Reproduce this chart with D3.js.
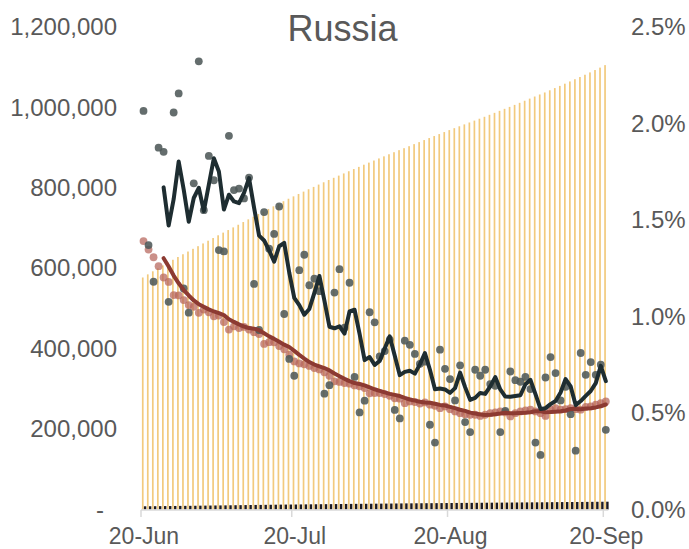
<!DOCTYPE html>
<html><head><meta charset="utf-8">
<script src="https://cdn.jsdelivr.net/npm/d3@7"></script>
<style>
html,body{margin:0;padding:0;background:#fff;}
svg{display:block;font-family:"Liberation Sans",Arial,sans-serif;}
</style></head><body>
<svg id="chart" width="689" height="549"></svg>
<script>
const title = "Russia";
const startDate = new Date(2020, 5, 20);
const cumulativeCases = [
577000,584800,592400,599900,607100,614300,621100,628000,634800,641600,
648300,654900,661700,668500,675200,682000,688600,695000,701600,708200,
714900,721600,728200,734800,741100,747500,754000,760400,766700,772900,
778800,784700,790600,796500,802300,808100,813800,819500,824900,830400,
835800,841300,846700,852100,857500,862700,867900,873100,878300,883500,
888600,893700,898600,903600,908700,913700,918800,923800,928800,933700,
938700,943600,948400,953100,957800,962500,967200,971900,976700,981600,
986500,991500,996500,1001300,1006300,1011400,1016600,1021900,1027100,1032200,
1037200,1042600,1048100,1053500,1059000,1064600,1070100,1075600,1081300,1087100,
1093000,1099000,1105200];
const cumulativeDeaths = [
8002,8111,8206,8359,8513,8605,8781,8969,9073,9166,9320,
9536,9683,9859,10027,10161,10296,10494,10667,10826,11017,
11205,11335,11439,11614,11753,11937,12123,12245,12342,12427,
12580,12745,12892,13026,13172,13249,13354,13504,13650,13802,13963,
14058,14128,14207,14351,14488,14606,14725,14827,15001,15131,
15260,15353,15462,15585,15685,15760,15836,15951,16099,16189,
16310,16383,16448,16524,16641,16758,16866,16968,17045,17128,17250,
17365,17479,17599,17702,17820,17871,17931,18080,18263,18365,
18484,18578,18635,18707,18829,18941,19061,19195,19299,19389];
const deathGrowthPct = [
2.065,1.370,1.180,1.875,1.853,1.076,2.057,2.156,1.145,1.020,
1.690,2.322,1.551,1.832,1.706,1.344,1.337,1.936,1.655,1.663,
1.612,1.720,1.169,0.930,1.541,1.351,1.428,1.570,1.013,0.780,
0.693,1.240,1.320,1.162,1.196,1.131,0.600,0.644,1.124,1.245,
0.942,1.175,0.687,0.503,0.564,1.022,0.970,0.793,0.821,0.880,
0.516,0.472,0.875,0.853,0.806,0.755,0.766,0.439,0.347,0.828,
0.729,0.676,0.565,0.747,0.453,0.401,0.724,0.693,0.724,0.650,
0.641,0.401,0.511,0.715,0.670,0.662,0.687,0.624,0.347,0.283,
0.684,0.790,0.707,0.565,0.636,0.494,0.305,0.811,0.698,0.764,
0.698,0.750,0.413];
const deathGrowthAvgPct = [ // from 24-Jun
1.669,1.471,1.608,1.803,1.657,1.491,1.614,1.667,1.546,1.683,
1.820,1.751,1.554,1.631,1.596,1.587,1.641,1.717,1.564,1.419,
1.394,1.342,1.284,1.364,1.381,1.228,1.097,1.059,1.009,1.039,
1.122,1.210,1.082,0.947,0.939,0.949,0.911,1.026,1.035,0.910,
0.774,0.790,0.749,0.770,0.834,0.897,0.796,0.696,0.713,0.719,
0.704,0.752,0.811,0.724,0.623,0.627,0.622,0.604,0.629,0.709,
0.634,0.568,0.578,0.604,0.599,0.638,0.686,0.622,0.585,0.584,
0.588,0.592,0.649,0.672,0.598,0.521,0.525,0.546,0.562,0.606,
0.676,0.638,0.541,0.562,0.589,0.614,0.655,0.744,0.665];
const caseGrowthPct = [
1.391,1.347,1.307,1.261,1.202,1.179,1.111,1.109,1.085,1.059,
1.050,1.019,1.036,1.022,1.001,1.005,0.971,0.932,0.949,0.940,
0.946,0.932,0.919,0.909,0.858,0.867,0.866,0.847,0.830,0.802,
0.767,0.757,0.752,0.744,0.733,0.726,0.711,0.693,0.664,0.661,
0.655,0.652,0.643,0.638,0.629,0.602,0.603,0.603,0.598,0.589,
0.576,0.574,0.551,0.560,0.557,0.549,0.555,0.543,0.537,0.525,
0.534,0.520,0.508,0.499,0.494,0.491,0.491,0.485,0.491,0.499,
0.503,0.508,0.503,0.482,0.499,0.508,0.513,0.517,0.508,0.499,
0.485,0.517,0.525,0.517,0.520,0.525,0.520,0.517,0.531,0.534,
0.543,0.551,0.560];
const caseGrowthAvgPct = [ // from 24-Jun
1.302,1.259,1.212,1.172,1.137,1.109,1.083,1.064,1.050,1.037,
1.026,1.017,1.007,0.986,0.972,0.959,0.948,0.940,0.937,0.929,
0.913,0.897,0.884,0.869,0.854,0.842,0.822,0.801,0.782,0.764,
0.751,0.742,0.733,0.721,0.705,0.691,0.677,0.665,0.655,0.650,
0.643,0.633,0.623,0.615,0.607,0.599,0.594,0.588,0.578,0.570,
0.564,0.558,0.554,0.553,0.548,0.542,0.539,0.532,0.525,0.517,
0.511,0.502,0.497,0.492,0.490,0.491,0.494,0.497,0.501,0.499,
0.499,0.500,0.501,0.504,0.509,0.509,0.504,0.505,0.507,0.509,
0.513,0.521,0.521,0.520,0.523,0.525,0.529,0.535,0.544];
const avgStartOffset = 4;
const xTickDates = [new Date(2020,5,20), new Date(2020,6,20), new Date(2020,7,20), new Date(2020,8,20)];
const xTickLabels = ["20-Jun","20-Jul","20-Aug","20-Sep"];
const leftTicks = [0,200000,400000,600000,800000,1000000,1200000];
const rightTicks = [0,0.5,1.0,1.5,2.0,2.5];

const svg = d3.select("#chart");
const dates = cumulativeCases.map((_, i) => d3.timeDay.offset(startDate, i));
const x = d3.scaleTime().domain([new Date(2020,5,20), new Date(2020,8,20)]).range([141, 603.3]);
const yL = d3.scaleLinear().domain([0, 1200000]).range([509.5, 27]);
const yR = d3.scaleLinear().domain([0, 2.5]).range([509.5, 27]);
const cx = d => x(d3.timeHour.offset(d, 12));
const x0 = d => x(d);

// yellow bars (cumulative cases)
svg.append("g").selectAll("rect").data(dates).join("rect")
  .attr("x", d => x0(d) + 0.9).attr("width", 1.7)
  .attr("y", (d,i) => yL(cumulativeCases[i]))
  .attr("height", (d,i) => yL(0) - yL(cumulativeCases[i]))
  .attr("fill", "#f2ca7e");
// black bars (cumulative deaths)
svg.append("g").selectAll("rect").data(dates).join("rect")
  .attr("x", d => x0(d) + 2.9).attr("width", 2.4)
  .attr("y", (d,i) => yL(cumulativeDeaths[i]))
  .attr("height", (d,i) => yL(0) - yL(cumulativeDeaths[i]))
  .attr("fill", "#1b1a24");

// x axis line + ticks
const xEnd = x(new Date(2020,8,21));
svg.append("line").attr("x1", x(new Date(2020,5,20))).attr("x2", xEnd)
  .attr("y1", 510).attr("y2", 510).attr("stroke", "#d9d9d9").attr("stroke-width", 1.5);
svg.append("g").selectAll("line").data(xTickDates).join("line")
  .attr("x1", d => x(d)).attr("x2", d => x(d)).attr("y1", 510).attr("y2", 517)
  .attr("stroke", "#d9d9d9").attr("stroke-width", 1.5);
svg.append("g").selectAll("text").data(xTickDates).join("text")
  .attr("x", d => x(d) + 3).attr("y", 544).attr("text-anchor", "middle")
  .attr("font-size", 23).attr("fill", "#595959").text((d,i) => xTickLabels[i]);

// red dots (case growth)
svg.append("g").selectAll("circle").data(dates).join("circle")
  .attr("cx", d => cx(d)).attr("cy", (d,i) => yR(caseGrowthPct[i])).attr("r", 3.9)
  .attr("fill", "#b5645a").attr("fill-opacity", 0.72);
// dark dots (death growth)
svg.append("g").selectAll("circle").data(dates).join("circle")
  .attr("cx", d => cx(d)).attr("cy", (d,i) => yR(deathGrowthPct[i])).attr("r", 3.9)
  .attr("fill", "#4f5959").attr("fill-opacity", 0.88);

const lineGen = arr => d3.line()
  .x((v, i) => cx(dates[i + avgStartOffset]))
  .y(v => yR(v))(arr);
svg.append("path").attr("d", lineGen(caseGrowthAvgPct))
  .attr("fill", "none").attr("stroke", "#8c3a32").attr("stroke-width", 4)
  .attr("stroke-linejoin", "round").attr("stroke-linecap", "round");
svg.append("path").attr("d", lineGen(deathGrowthAvgPct))
  .attr("fill", "none").attr("stroke", "#1e2d31").attr("stroke-width", 4)
  .attr("stroke-linejoin", "round").attr("stroke-linecap", "round");

// left axis
const gl = svg.append("g").attr("transform", "translate(117,0)")
  .call(d3.axisLeft(yL).tickValues(leftTicks).tickSize(0).tickPadding(0)
    .tickFormat(v => v === 0 ? "-" : d3.format(",")(v)));
gl.select(".domain").remove();
gl.selectAll("text").attr("font-size", 24).attr("fill", "#595959")
  .attr("font-family", "'Liberation Sans',Arial,sans-serif")
  .attr("dx", v => v === 0 ? -13 : 0);
// right axis
const gr = svg.append("g").attr("transform", "translate(631,0)")
  .call(d3.axisRight(yR).tickValues(rightTicks).tickSize(0).tickPadding(0)
    .tickFormat(d3.format(".1f")));
gr.select(".domain").remove();
gr.selectAll("text").attr("font-size", 24).attr("fill", "#595959")
  .attr("font-family", "'Liberation Sans',Arial,sans-serif")
  .text(v => d3.format(".1f")(v) + "%");

svg.append("text").attr("x", 342.5).attr("y", 41).attr("text-anchor", "middle")
  .attr("font-size", 36).attr("fill", "#595959").text(title);
</script>
</body></html>
